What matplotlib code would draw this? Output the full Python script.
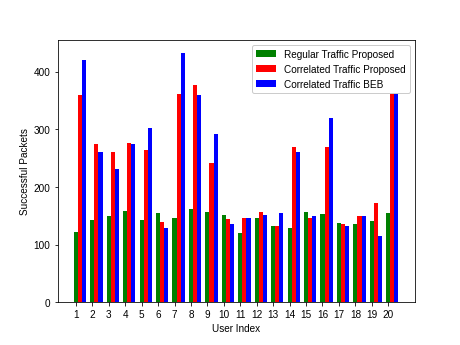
import numpy as np
import matplotlib
matplotlib.use('Agg')
import matplotlib.pyplot as plt

plt.rcParams['font.family'] = ['Liberation Sans', 'DejaVu Sans']

# values
users = list(range(1, 21))
regular_proposed = [121, 142, 150, 158, 142, 154, 147, 161, 157, 151,
                    120, 146, 132, 128, 156, 153, 138, 135, 141, 154]
correlated_proposed = [360, 274, 260, 276, 264, 140, 362, 377, 241, 145,
                       147, 156, 132, 269, 147, 270, 135, 149, 173, 400]
correlated_beb = [420, 260, 232, 274, 303, 128, 433, 360, 292, 136,
                  147, 151, 154, 260, 150, 320, 132, 150, 115, 410]

x = np.arange(len(users))
width = 0.25

fig, ax = plt.subplots(figsize=(6.4, 4.8), dpi=72)
fig.subplots_adjust(left=0.125, right=0.9, top=0.8815, bottom=0.124)

ax.bar(x, regular_proposed, width, color='green', label='Regular Traffic Proposed')
ax.bar(x + width, correlated_proposed, width, color='red', label='Correlated Traffic Proposed')
ax.bar(x + 2 * width, correlated_beb, width, color='blue', label='Correlated Traffic BEB')

ax.set_xticks(x)
ax.set_xticklabels([str(u) for u in users])
ax.set_xlabel('User Index')
ax.set_ylabel('Successful Packets')
ax.legend(loc='upper right', framealpha=1)

fig.savefig('out.png', dpi=72)
